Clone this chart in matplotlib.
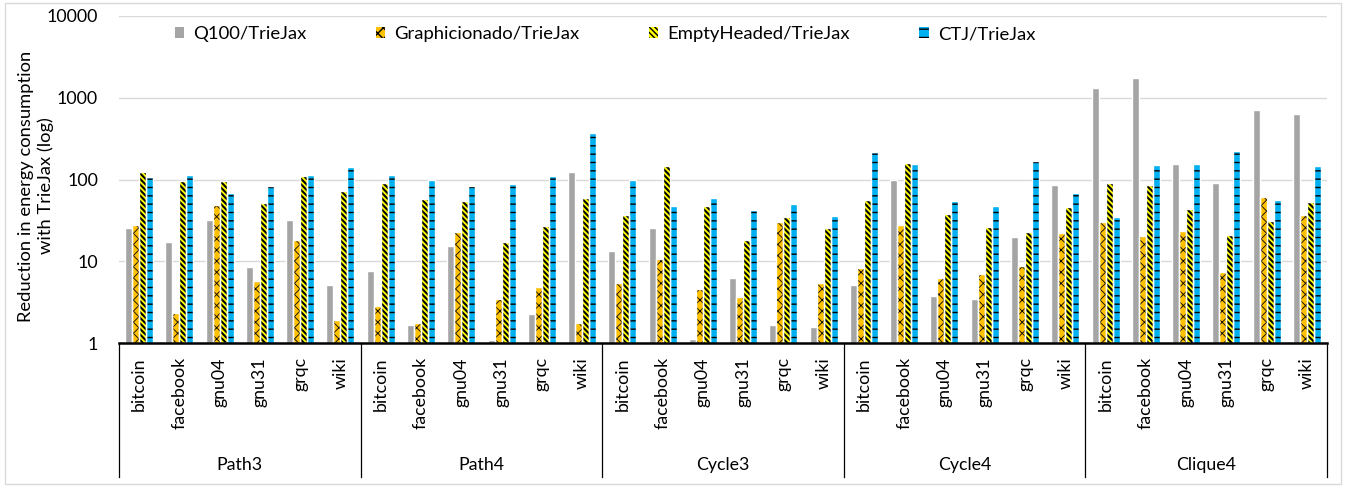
import matplotlib
matplotlib.use("Agg")
import matplotlib.pyplot as plt
from matplotlib.patches import Patch, Rectangle
from matplotlib.lines import Line2D
import numpy as np

plt.rcParams['font.family'] = ['Lato', 'DejaVu Sans']

groups = ["Path3", "Path4", "Cycle3", "Cycle4", "Clique4"]
datasets = ["bitcoin", "facebook", "gnu04", "gnu31", "grqc", "wiki"]
series_names = ["Q100/TrieJax", "Graphicionado/TrieJax", "EmptyHeaded/TrieJax", "CTJ/TrieJax"]

q100 = [26, 17.2, 32.4, 8.6, 32.4, 5.2,
        7.7, 1.68, 15.4, 1.1, 2.31, 125,
        13.6, 26, 1.12, 6.2, 1.68, 1.57,
        5.13, 100, 3.8, 3.49, 20, 85,
        1313, 1757, 154, 92, 713, 637]
graphicionado = [27.6, 2.33, 49.4, 5.8, 18.4, 1.93,
                 2.89, 1.77, 23, 3.52, 4.9, 1.79,
                 5.43, 10.7, 4.63, 3.69, 30.6, 5.48,
                 8.37, 28.1, 6.3, 7.06, 8.85, 22.4,
                 30.3, 20.4, 23.8, 7.4, 60.8, 36.9]
emptyheaded = [125, 97, 96, 51.8, 110, 73,
               91, 58, 54.8, 17.4, 26.8, 60,
               37.3, 148, 47.2, 18.4, 34.9, 25.6,
               55.8, 158, 38.4, 26.6, 23.1, 46.7,
               92, 86, 43.7, 21.2, 31.5, 53.3]
ctj = [107, 115, 68.7, 84.5, 115, 142,
       115, 98, 84.5, 87.7, 112, 373,
       100, 48, 59, 42.1, 50.8, 35.6,
       220, 157, 54.8, 47.2, 171, 68.7,
       34.9, 151, 154, 222, 55.8, 147]

W, H = 1346, 487
fig = plt.figure(figsize=(W / 100, H / 100), dpi=100)

ax_left, ax_right, ax_top, ax_base = 119, 1327, 16, 343.3
ax = fig.add_axes([ax_left / W, 1 - ax_base / H, (ax_right - ax_left) / W, (ax_base - ax_top) / H])
ax_h = ax_base - ax_top

n = len(groups) * len(datasets)
x = np.arange(n)
stride = 0.174
styles = [
    dict(color="#A5A5A5", hatch=None, hlw=1.0),
    dict(color="#FFC000", hatch="xxx", hlw=0.6),
    dict(color="#FFFF00", hatch="\\" * 6, hlw=1.5),
    dict(color="#00B0F0", hatch="--", hlw=1.0),
]
values = [q100, graphicionado, emptyheaded, ctj]
handles = []
for k, (vals, st) in enumerate(zip(values, styles)):
    v = np.array(vals, dtype=float)
    xs = x + (k - 1.5) * stride
    with plt.rc_context({'hatch.linewidth': st['hlw']}):
        ax.bar(xs, v - 1, bottom=1, width=stride, color=st['color'],
               edgecolor='black' if st['hatch'] else st['color'],
               hatch=st['hatch'], linewidth=0, zorder=2)
        ax.bar(xs, v - 1, bottom=1, width=stride, facecolor='none',
               edgecolor='white', linewidth=1.0, zorder=3)
        handles.append(Patch(facecolor=st['color'],
                             edgecolor='black' if st['hatch'] else st['color'],
                             hatch=st['hatch'],
                             linewidth=0))

ax.set_yscale('log')
ax.set_ylim(1, 10000)
ax.set_xlim(-0.5, n - 0.5)
ax.set_yticks([1, 10, 100, 1000, 10000])
ax.set_yticklabels(["1", "10", "100", "1000", "10000"])
ax.minorticks_off()
ax.yaxis.set_tick_params(length=0, pad=21 / 1.389, labelsize=12.8, labelcolor='#000000')
ax.grid(axis='y', color='#D9D9D9', linewidth=1.0, zorder=0)
ax.set_axisbelow(True)
for s in ['top', 'right', 'left']:
    ax.spines[s].set_visible(False)
ax.spines['bottom'].set_linewidth(1.8)
ax.spines['bottom'].set_zorder(5)

ax.set_xticks(x)
ax.set_xticklabels(datasets * len(groups), rotation=90, fontsize=12.8, va='top', ha='center')
ax.xaxis.set_tick_params(length=0, pad=14 / 1.389)

# group separators and labels
sep_bottom = -(477 - ax_base) / ax_h
trans = ax.get_xaxis_transform()
for b in range(len(groups) + 1):
    xb = b * len(datasets) - 0.5
    ax.add_line(Line2D([xb, xb], [0, sep_bottom], transform=trans, color='black',
                       linewidth=0.9, clip_on=False, zorder=4))
for g, name in enumerate(groups):
    xc = g * len(datasets) + (len(datasets) - 1) / 2
    ax.text(xc, -(465 - ax_base) / ax_h, name, transform=trans, ha='center', va='center',
            fontsize=12.8)

# y label
fig.text(36 / W, 1 - 186 / H, "Reduction in energy consumption\nwith TrieJax (log)",
         rotation=90, ha='center', va='center', fontsize=13.2, linespacing=1.25)

# legend
leg = ax.legend(handles, series_names, loc='center left',
                bbox_to_anchor=((175 - ax_left) / (ax_right - ax_left), (ax_base - 34) / ax_h),
                ncol=4, frameon=False, fontsize=13.3, handlelength=0.5, handleheight=0.5,
                handletextpad=0.5, columnspacing=3.75, borderpad=0, borderaxespad=0)

# chart border
fig.patches.append(Rectangle((5 / W, 3 / H), (1341 - 5) / W, (484 - 3) / H,
                             transform=fig.transFigure, fill=False,
                             edgecolor='#D9D9D9', linewidth=1.0))

fig.savefig("out.png", dpi=100)
